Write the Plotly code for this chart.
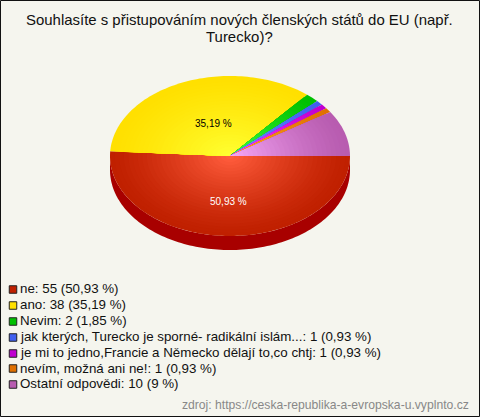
import math
import plotly.graph_objects as go

categories = ["ne", "ano", "Nevim", "jak kterých, Turecko je sporné- radikální islám...",
              "je mi to jedno,Francie a Německo dělají to,co chtj", "nevím, možná ani ne!", "Ostatní odpovědi"]
values = [55, 38, 2, 1, 1, 1, 10]
share_labels = ["50,93 %", "35,19 %", "1,85 %", "0,93 %", "0,93 %", "0,93 %", "9 %"]
rim_colors = [(192, 32, 0), (255, 224, 0), (0, 192, 0), (64, 96, 240), (192, 0, 208), (224, 112, 0), (184, 92, 176)]
core_colors = [(255, 92, 60), (255, 255, 48), (64, 255, 64), (110, 150, 255), (255, 70, 255), (255, 170, 40), (245, 165, 245)]
swatch_colors = ["#c02000", "#ffe000", "#00c000", "#4060f0", "#c000d0", "#e07000", "#b85cb0"]
title_lines = ["Souhlasíte s přistupováním nových členských států do EU (např.", "Turecko)?"]
source_text = "zdroj: https://ceska-republika-a-evropska-u.vyplnto.cz"

W, H = 480, 417
CX, CY, RX, RY, DEPTH = 230, 156, 120, 80, 14
BG = "#f5f5ee"
LEVELS = 26

fig = go.Figure()
total = sum(values)


def sector(a0, a1, scale):
    n = max(3, int(abs(a1 - a0) * 40))
    xs, ys = [CX], [CY]
    for i in range(n + 1):
        a = a0 + (a1 - a0) * i / n
        xs.append(CX + RX * scale * math.cos(a))
        ys.append(CY + RY * scale * math.sin(a))
    xs.append(CX)
    ys.append(CY)
    return xs, ys


# side wall: lower half of the ellipse, extruded
wall_x, wall_y = [], []
n = 120
for i in range(n + 1):
    a = math.pi * i / n
    wall_x.append(CX + RX * math.cos(a))
    wall_y.append(CY + RY * math.sin(a))
for i in range(n, -1, -1):
    a = math.pi * i / n
    wall_x.append(CX + RX * math.cos(a))
    wall_y.append(CY + DEPTH + RY * math.sin(a))
fig.add_trace(go.Scatter(x=wall_x, y=wall_y, fill="toself", fillcolor="#a80000", mode="none",
                         hoverinfo="skip", showlegend=False))

# slices, clockwise from 3 o'clock, with rim-to-core shading
start = 0.0
for k, v in enumerate(values):
    end = start + v / total * 2 * math.pi
    for level in range(LEVELS):
        t = level / (LEVELS - 1)
        scale = 1 - level / LEVELS
        col = tuple(round(rim_colors[k][c] + (core_colors[k][c] - rim_colors[k][c]) * t ** 1.3) for c in range(3))
        xs, ys = sector(start, end, scale)
        fig.add_trace(go.Scatter(x=xs, y=ys, fill="toself", fillcolor=f"rgb{col}", mode="none",
                                 hoverinfo="skip", showlegend=False))
    start = end

# in-pie labels for the two big slices
start = 0.0
for k, v in enumerate(values):
    end = start + v / total * 2 * math.pi
    if v / total > 0.2:
        mid = (start + end) / 2
        fx, fy = (0.34, 0.445) if k == 1 else (0.5, 0.57)
        fig.add_annotation(x=CX + RX * fx * math.cos(mid), y=CY + RY * fy * math.sin(mid),
                           text=share_labels[k], showarrow=False,
                           font=dict(family="Liberation Sans", size=10, color="white" if k == 0 else "black"))
    start = end

# legend
LEG_Y0, LEG_STEP = 289, 15.9
for k, (c, v, s) in enumerate(zip(categories, values, share_labels)):
    y = LEG_Y0 + k * LEG_STEP
    fig.add_trace(go.Scatter(x=[13], y=[round(y) + 0.5], mode="markers", hoverinfo="skip", showlegend=False,
                             marker=dict(symbol="square", size=7.5, color=swatch_colors[k],
                                         line=dict(color="#222222", width=1))))
    fig.add_annotation(x=20, y=y - 0.5, text=f"{c}: {v} ({s})", showarrow=False, xanchor="left", xshift=-2,
                       font=dict(family="Liberation Sans", size=13.33, color="#111111"))

for line, y in zip(title_lines, [19, 36.5]):
    fig.add_annotation(x=239.5, y=y, text=line, showarrow=False, borderpad=0,
                       font=dict(family="Liberation Sans", size=14.95, color="#111111"))
fig.add_annotation(x=469, y=405, text=source_text, showarrow=False, xanchor="right", xshift=2,
                   font=dict(family="Liberation Sans", size=12.15, color="#888888"))

fig.add_shape(type="rect", x0=0.5, y0=0.5, x1=W - 0.5, y1=H - 0.5, line=dict(color="#111111", width=1))

fig.update_layout(width=W, height=H, autosize=False, margin=dict(l=0, r=0, t=0, b=0),
                  paper_bgcolor=BG, plot_bgcolor=BG, showlegend=False,
                  xaxis=dict(range=[0, W], visible=False, fixedrange=True),
                  yaxis=dict(range=[H, 0], visible=False, fixedrange=True))
fig.write_html("out.html", config={"displayModeBar": False},
               post_script="document.body.style.margin='0';document.documentElement.style.overflow='hidden';")
